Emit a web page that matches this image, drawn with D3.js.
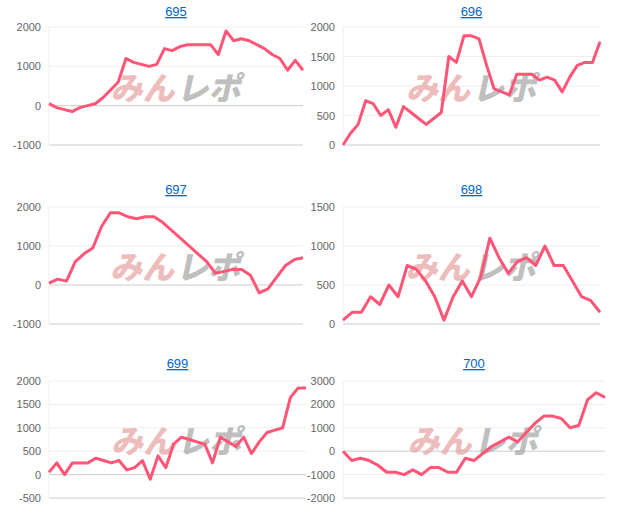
<!DOCTYPE html><html><head><meta charset="utf-8"><script src="https://cdn.jsdelivr.net/npm/d3@7"></script>
<style>body{margin:0;background:#fff;font-family:"Liberation Sans",Arial,sans-serif}</style></head><body><svg id="c" width="620" height="516"></svg>
<script>
const titles=["695","696","697","698","699","700"];
const s695=[50,-50,-100,-150,-50,0,50,200,400,600,1200,1100,1050,1000,1050,1450,1400,1500,1550,1550,1550,1550,1300,1900,1650,1700,1650,1550,1450,1300,1200,900,1150,900];
const s696=[0,200,350,750,700,500,600,300,650,550,450,350,450,550,1500,1400,1850,1850,1800,1350,950,900,850,1200,1200,1200,1100,1150,1100,900,1150,1350,1400,1400,1750];
const s697=[50,150,100,600,800,950,1500,1850,1850,1750,1700,1750,1750,1600,1400,1200,1000,800,600,300,350,400,400,250,-200,-100,200,500,650,700];
const s698=[50,150,150,350,250,500,350,750,700,550,350,50,350,550,350,600,1100,850,650,800,850,750,1000,750,750,550,350,300,150];
const s699=[50,250,0,250,250,250,350,300,250,300,100,150,300,-100,400,150,650,800,750,700,650,250,800,700,600,800,450,700,900,950,1000,1650,1850,1850];
const s700=[0,-400,-300,-400,-600,-900,-900,-1000,-800,-1000,-700,-700,-900,-900,-300,-400,-100,200,400,600,400,800,1200,1500,1500,1400,1000,1100,2200,2500,2300];
const ticks=[[-1000,0,1000,2000],[0,500,1000,1500,2000],[-1000,0,1000,2000],[0,500,1000,1500],[-500,0,500,1000,1500,2000],[-2000,-1000,0,1000,2000,3000]];
const series=[s695,s696,s697,s698,s699,s700];
const svg=d3.select("#c");
const boxes=[[49,303,12,27,145],[343,600,12,27,145],[49,303,190,207,324],[343,600,190,207,324],[49,306,364,381,498],[343,605,364,381,498]];
series.forEach((d,i)=>{
 const [x0,x1,ty,y0,y1]=boxes[i];const t=ticks[i];
 const g=svg.append("g");
 const x=d3.scaleLinear().domain([0,d.length-1]).range([x0,x1]);
 const y=d3.scaleLinear().domain([t[0],t[t.length-1]]).range([y1,y0]);
 g.append("text").attr("x",(x0+x1)/2).attr("y",ty+4).attr("text-anchor","middle").attr("fill","#0066cc").attr("font-size",13).attr("text-decoration","underline").text(titles[i]);
 t.forEach(v=>{
  g.append("line").attr("x1",x0).attr("x2",x1).attr("y1",y(v)).attr("y2",y(v)).attr("stroke",v===0||v===t[0]?"#ccc":"#eee");
  g.append("text").attr("x",x0-8).attr("y",y(v)+4).attr("text-anchor","end").attr("font-size",11).attr("fill","#666").text(v);
 });
 g.append("line").attr("x1",x0).attr("x2",x0).attr("y1",y0).attr("y2",y1).attr("stroke","#eee");
 const cx=(x0+x1)/2+15,cy=(y0+y1)/2+14;
 const wf='"Noto Sans CJK JP",sans-serif';
 g.append("text").attr("x",cx-16).attr("y",cy).attr("text-anchor","end").attr("font-family",wf).attr("font-size",32).attr("font-weight",900).attr("transform",`skewX(-12) translate(${cy*0.21},0)`).attr("fill","#e8a8a8").attr("opacity",0.75).text("みん");
 g.append("text").attr("x",cx-14).attr("y",cy).attr("text-anchor","start").attr("font-family",wf).attr("font-size",32).attr("font-weight",900).attr("transform",`skewX(-12) translate(${cy*0.21},0)`).attr("fill","#aaa").attr("opacity",0.75).text("レポ");
 g.append("path").datum(d).attr("fill","none").attr("stroke","#ff5577").attr("stroke-width",3).attr("stroke-linejoin","round")
  .attr("d",d3.line().x((v,j)=>x(j)).y(v=>y(v)));
});
</script></body></html>
